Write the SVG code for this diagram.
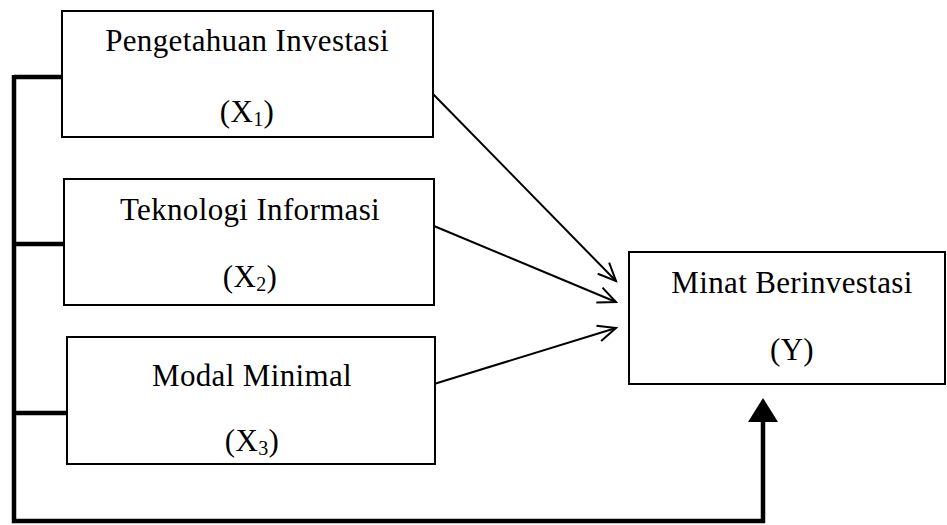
<svg xmlns="http://www.w3.org/2000/svg" width="947" height="525" viewBox="0 0 947 525">
<style>
.box{fill:#fff;stroke:#000;stroke-width:2}
.t{font-family:"Liberation Serif","Times New Roman",serif;font-size:31px;letter-spacing:0.35px;fill:#000;text-anchor:middle}
.sub{font-size:20px}
.thin{fill:none;stroke:#000;stroke-width:2}
.thick{fill:none;stroke:#000;stroke-width:4.5}
</style>
<defs>
<marker id="open" markerWidth="24" markerHeight="24" refX="20" refY="10" orient="auto" markerUnits="userSpaceOnUse">
<path d="M2,2 L20,10 L2,18" fill="none" stroke="#000" stroke-width="2"/>
</marker>
</defs>
<g id="connectors">
<path class="thick" d="M14,77 H62 M14,244 H64 M14,413 H67 M14,75 V521 H763 V420"/>
<polygon points="763,398 748,422 778,422" fill="#000"/>
<line class="thin" x1="433" y1="94" x2="616" y2="281" marker-end="url(#open)"/>
<line class="thin" x1="434" y1="226" x2="616" y2="302" marker-end="url(#open)"/>
<line class="thin" x1="434" y1="384" x2="616" y2="328" marker-end="url(#open)"/>
</g>
<g id="x1">
<rect class="box" x="62" y="11" width="371" height="126"/>
<text class="t" x="247" y="51">Pengetahuan Investasi</text>
<text class="t" x="247" y="122">(X<tspan class="sub" dy="4">1</tspan><tspan dy="-4">)</tspan></text>
</g>
<g id="x2">
<rect class="box" x="64" y="179" width="370" height="126"/>
<text class="t" x="250" y="220">Teknologi Informasi</text>
<text class="t" x="250" y="287">(X<tspan class="sub" dy="4">2</tspan><tspan dy="-4">)</tspan></text>
</g>
<g id="x3">
<rect class="box" x="67" y="337" width="368" height="127"/>
<text class="t" x="252" y="386">Modal Minimal</text>
<text class="t" x="252" y="451">(X<tspan class="sub" dy="4">3</tspan><tspan dy="-4">)</tspan></text>
</g>
<g id="y">
<rect class="box" x="629" y="252" width="316" height="132"/>
<text class="t" x="792" y="293">Minat Berinvestasi</text>
<text class="t" x="792" y="360">(Y)</text>
</g>
</svg>
